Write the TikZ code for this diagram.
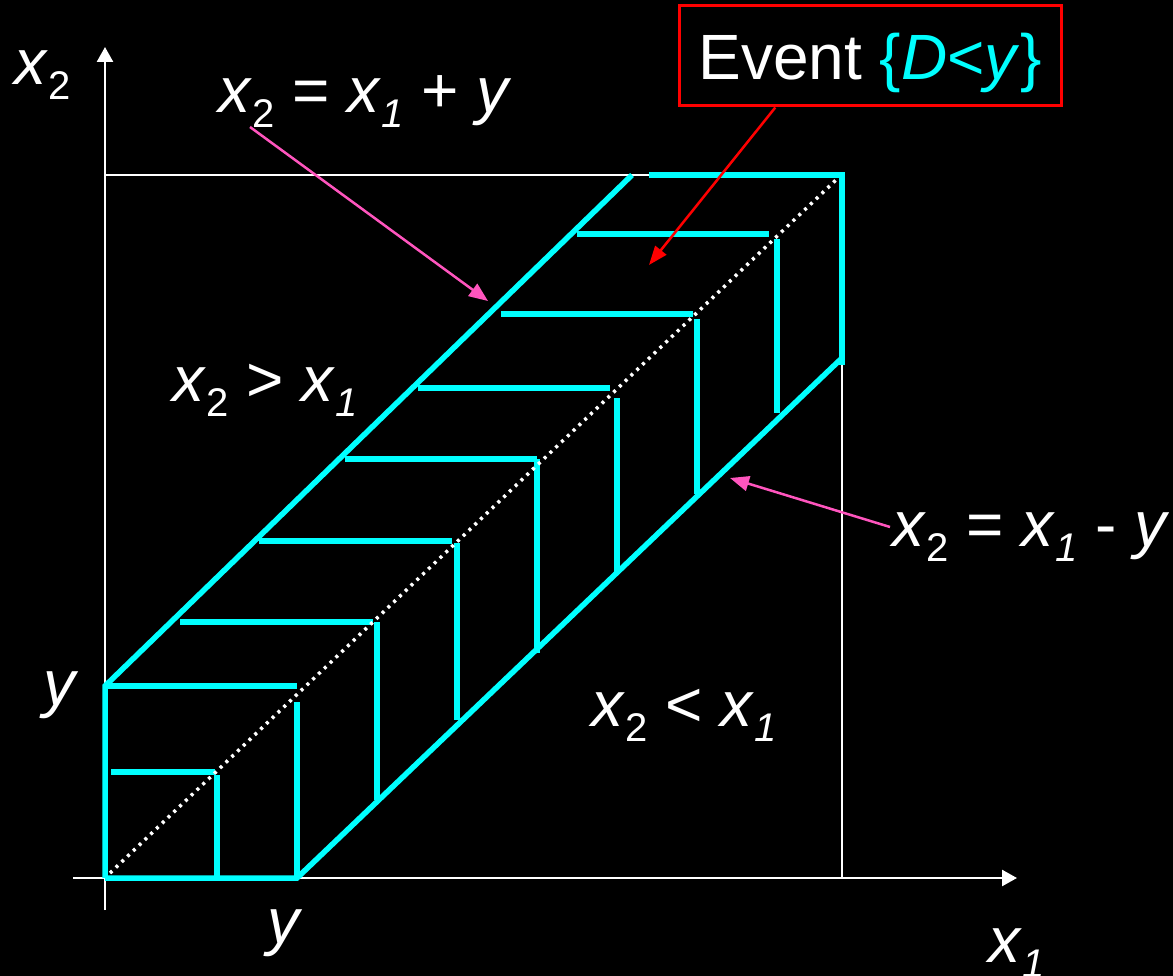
\documentclass[tikz,border=0pt]{standalone}
\usepackage{fontspec}
\setmainfont{Liberation Sans}
\usetikzlibrary{arrows.meta,calc}
\definecolor{cy}{RGB}{0,255,255}
\definecolor{pk}{RGB}{255,85,190}
\definecolor{rd}{RGB}{255,0,0}
\newcommand{\subsc}[1]{\raisebox{-15pt}{\fontsize{40pt}{40pt}\selectfont #1}}
\newcommand{\vx}{\textit{x}}
\begin{document}
\begin{tikzpicture}[x=1pt,y=-1pt,
  lbl/.style={text=white, font=\fontsize{64pt}{64pt}\selectfont, inner sep=0pt, anchor=base west},
  axis/.style={white, line width=2.5pt, -{Triangle[length=15pt,width=16pt]}},
  frame/.style={white, line width=2.5pt},
  cyl/.style={cy, line width=5.5pt},
  diag/.style={white, line width=3.5pt, dash pattern=on 3pt off 5pt},
  pinkarrow/.style={pk, line width=2.5pt, -{Triangle[length=19pt,width=15pt]}},
  redarrow/.style={rd, line width=2.5pt, -{Triangle[length=19pt,width=14pt]}}]
\fill[black] (0,0) rectangle (1173,976);
\useasboundingbox (0,0) rectangle (1173,976);
% axes and frame
\draw[axis] (73,878) -- (1017,878);
\draw[axis] (105,910) -- (105,47);
\draw[frame] (105,175) -- (842,175) -- (842,878);
% cyan outline
\draw[cyl] (105,878) -- (105,686) -- (632,175);
\draw[cyl] (105,878) -- (297,878) -- (842,358);
\draw[cyl] (649,175) -- (842,175) -- (842,365);
% hatch horizontals
\draw[cyl] (111,772) -- (215,772);
\draw[cyl] (105,686) -- (297,686);
\draw[cyl] (180,622) -- (373,622);
\draw[cyl] (259,541) -- (452,541);
\draw[cyl] (345,459) -- (537,459);
\draw[cyl] (418,388) -- (610,388);
\draw[cyl] (501,314) -- (693,314);
\draw[cyl] (577,234) -- (769,234);
% hatch verticals
\draw[cyl] (217,775) -- (217,878);
\draw[cyl] (297,702) -- (297,878);
\draw[cyl] (377,622) -- (377,800);
\draw[cyl] (457,543) -- (457,720);
\draw[cyl] (537,459) -- (537,653);
\draw[cyl] (617,398) -- (617,573);
\draw[cyl] (697,319) -- (697,494);
\draw[cyl] (777,239) -- (777,413);
% dotted diagonal
\draw[diag] (110,873) -- (838,178);
% labels
\node[lbl] (ax2) at (14,85) {\vx\subsc{2}};
\node[lbl] (ax1) at (988,962) {\vx\subsc{\itshape 1}};
\node[lbl] (yl) at (43,705) {\textit{y}};
\node[lbl] (yb) at (267,943) {\textit{y}};
\node[lbl] (lup) at (218,113) {\vx\subsc{2} = \vx\subsc{\itshape 1} + \textit{y}};
\node[lbl] (ldn) at (892,546) {\vx\subsc{2} = \vx\subsc{\itshape 1} - \textit{y}};
\node[lbl] (gt) at (172,401) {\vx\subsc{2} > \vx\subsc{\itshape 1}};
\node[lbl] (lt) at (591,726) {\vx\subsc{2} < \vx\subsc{\itshape 1}};
\node[draw=rd, line width=3pt, minimum width=382pt, minimum height=100pt, inner sep=0pt,
      text height=60pt, text depth=12pt, font=\fontsize{64pt}{64pt}\selectfont, text=white]
      (evt) at (870,56) {Event \textcolor{cy}{\{\textit{D}<\textit{y}\}}};
% arrows
\coordinate (redtip) at (649,265);
\coordinate (pk1) at (488,301);
\coordinate (pk2) at (730,478);
\draw[redarrow] ($(evt.south west)!0.254!(evt.south east)$) -- (redtip);
\draw[pinkarrow] ($(lup.base west)+(32,14)$) -- (pk1);
\draw[pinkarrow] ($(ldn.base west)+(-2,-19)$) -- (pk2);
\end{tikzpicture}
\end{document}
